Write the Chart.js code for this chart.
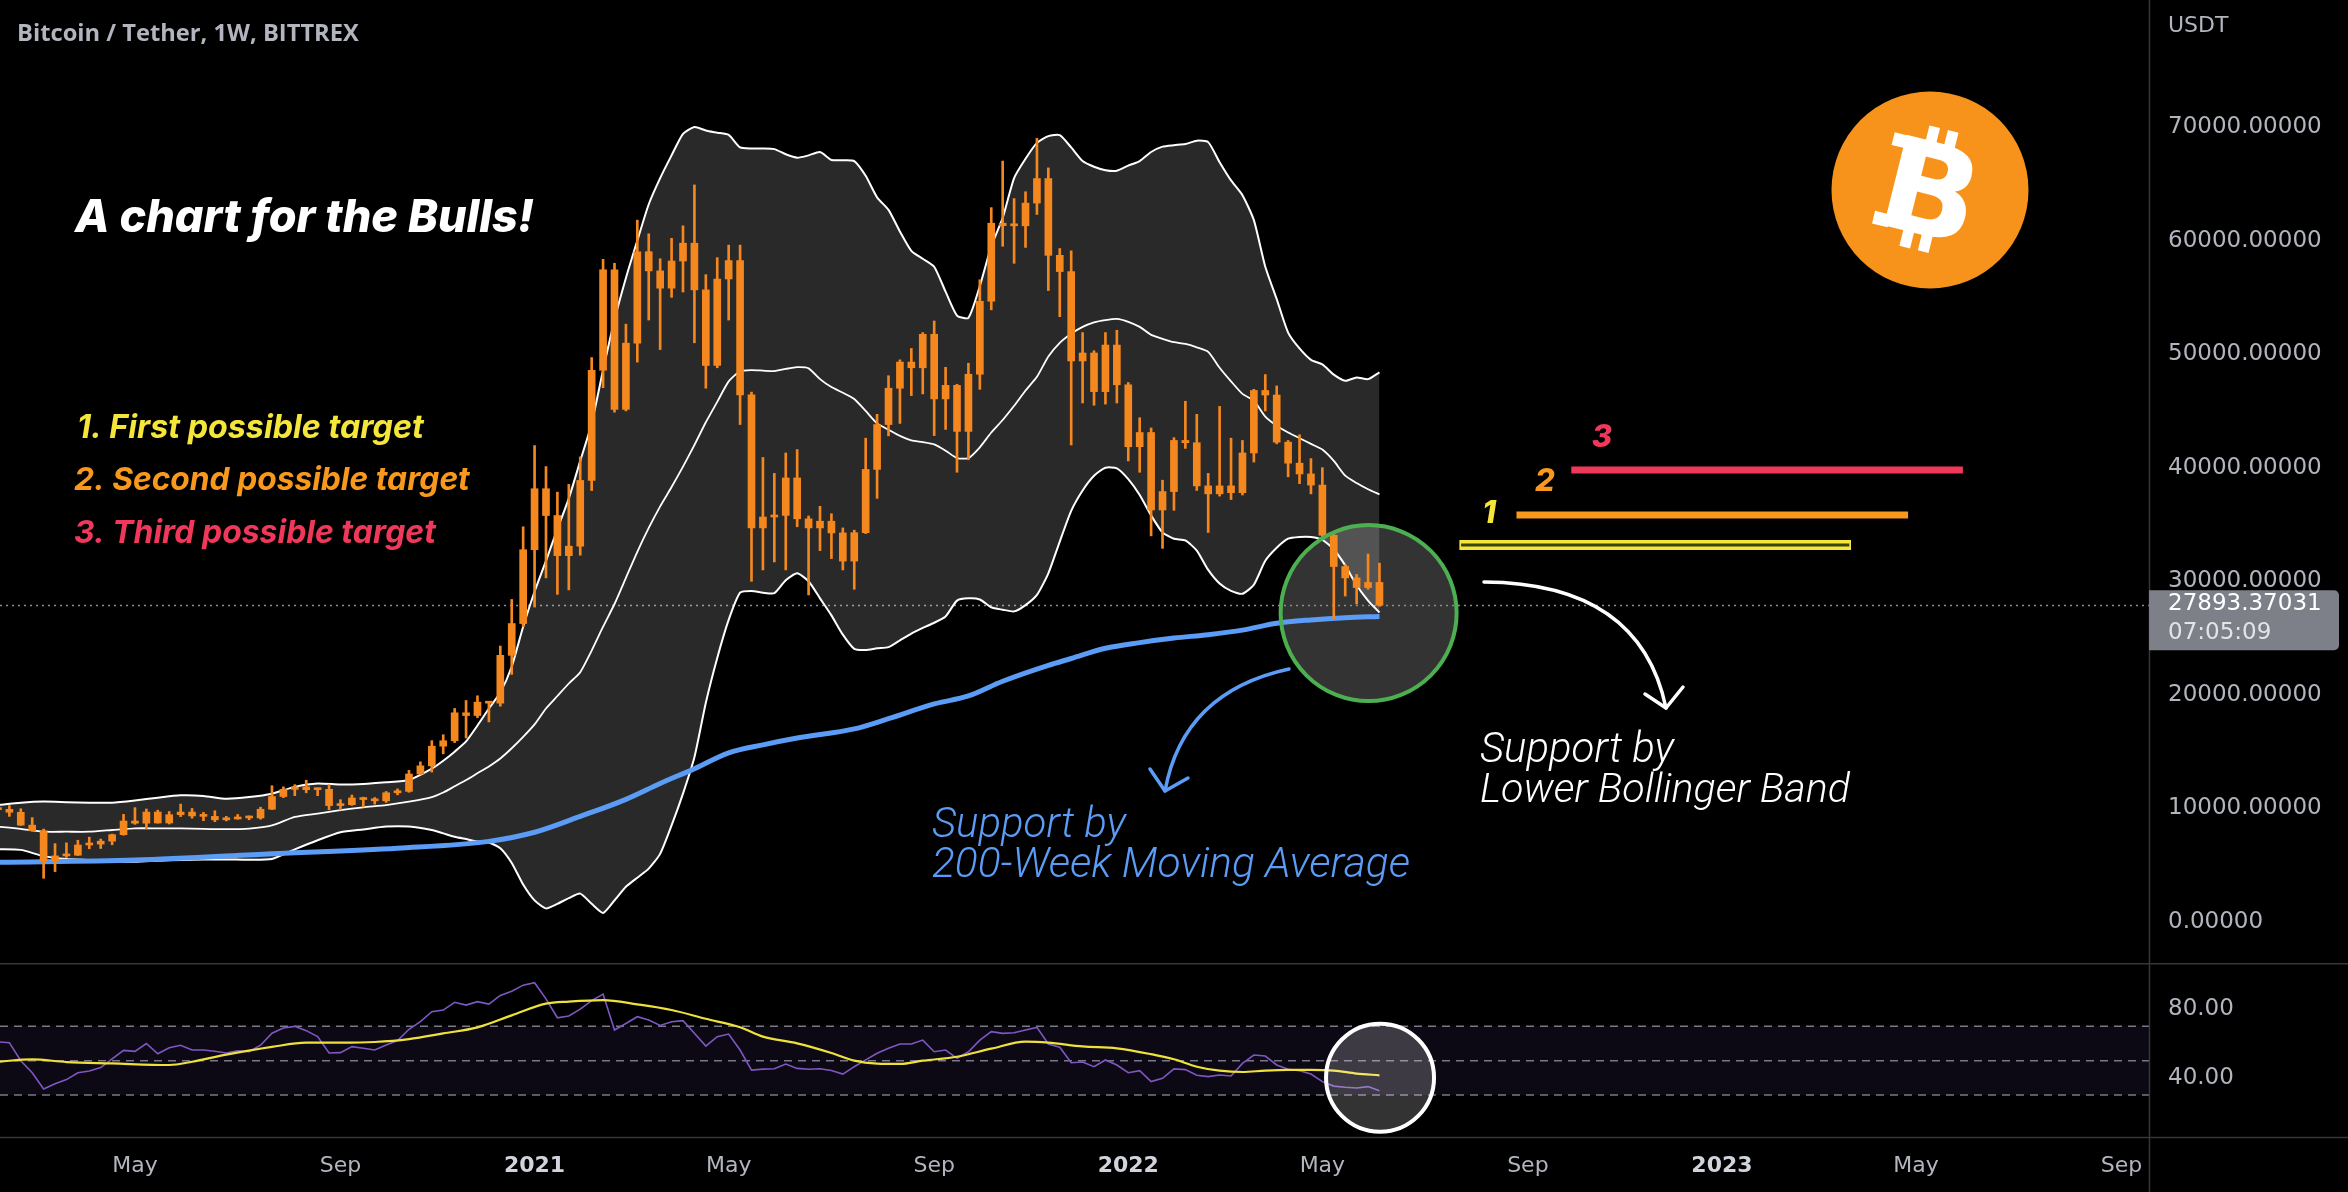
<!DOCTYPE html>
<html>
<head>
<meta charset="utf-8">
<title>Bitcoin / Tether, 1W, BITTREX</title>
<script src="https://cdn.jsdelivr.net/npm/chart.js@4.4.1/dist/chart.umd.min.js"></script>
<style>
html, body { margin: 0; padding: 0; background: #000; }
body { position: relative; width: 2348px; height: 1192px; overflow: hidden; }
canvas { position: absolute; left: 0; }
#priceChart { top: 0; }
#rsiChart { top: 963px; }
</style>
</head>
<body>
<canvas id="priceChart" width="2348" height="963"></canvas>
<canvas id="rsiChart" width="2348" height="229"></canvas>
<script>
// weekly candles; week numbers count from the week of 6 Jan 2020, first candle = week 5 (10 Feb 2020)
const firstWeek = 5;
const opens = [
  9900, 9920, 9660, 8530, 8030, 5360, 5820, 5880, 6780, 6860,
  7120, 7690, 8890, 8700, 9680, 8720, 9450, 9680, 9340, 9300,
  9000, 9070, 9230, 9160, 9930, 11050, 11680, 11900, 11650, 11680,
  10250, 10330, 10920, 10780, 10670, 11380, 11500, 13030, 13750, 15480,
  15960, 18420, 18180, 19360, 19270, 23480, 26280, 32780, 38150, 35790,
  32260, 33090, 38880, 48580, 57430, 45140, 50970, 59020, 57330, 55810,
  58200, 59770, 55660, 49000, 56620, 58240, 46420, 34700, 35660, 35800,
  39100, 35500, 34700, 35290, 34260, 31780, 34280, 39850, 43800, 47000,
  49300, 48800, 51750, 46060, 47250, 43200, 48230, 54660, 61530, 61310,
  61300, 63300, 65460, 58700, 57270, 49400, 50100, 46700, 50800, 47300,
  41850, 43100, 36280, 37900, 42400, 42200, 38400, 37700, 38400, 37800,
  41300, 46800, 46400, 42250, 40400, 39450, 38470, 34050, 31300, 30300,
  29450, 29900
];
const highs = [
  10500, 10250, 9970, 9190, 8180, 6900, 6970, 7200, 7470, 7300,
  7740, 9480, 10070, 9950, 9850, 9730, 10380, 10000, 9650, 9800,
  9300, 9470, 9340, 10110, 12000, 11900, 12090, 12480, 11800, 12090,
  10770, 11180, 10990, 10960, 11490, 11720, 13350, 14100, 15970, 16490,
  18800, 19500, 19920, 19400, 24300, 28400, 34800, 41950, 40100, 37850,
  38530, 40950, 49700, 58350, 58000, 52640, 61800, 60600, 58400, 60200,
  61300, 64900, 57000, 58500, 59600, 59600, 46660, 40900, 39500, 41300,
  41600, 35750, 36600, 35950, 34700, 34500, 42600, 44700, 48100, 49500,
  50500, 51900, 52920, 48840, 47350, 49200, 56550, 62900, 67000, 63700,
  64300, 69000, 66400, 59300, 59100, 51900, 50300, 51900, 52100, 47500,
  44400, 43500, 38900, 42650, 45850, 44700, 39500, 45400, 42600, 42400,
  46900, 48200, 47200, 42400, 42900, 40800, 40000, 34200, 31450, 30600,
  32400, 31600
];
const lows = [
  9700, 9300, 8500, 8000, 3850, 4440, 5690, 5860, 6450, 6470,
  6800, 7640, 8600, 8200, 8700, 8630, 9280, 9140, 8920, 8830,
  8900, 9050, 9000, 9050, 9900, 10950, 11120, 11380, 11120, 9880,
  9880, 10270, 10130, 10380, 10530, 11200, 11420, 12990, 13200, 14810,
  15800, 16200, 18000, 17620, 19000, 21800, 26000, 27730, 30300, 28850,
  29240, 32300, 37990, 47050, 44890, 45000, 49300, 53000, 50400, 55000,
  55470, 51000, 47000, 48800, 53000, 43800, 30000, 31000, 31700, 31000,
  34800, 28800, 32700, 32000, 31000, 29300, 34200, 37300, 42800, 43900,
  46350, 46500, 42830, 43370, 39600, 40700, 46900, 53900, 59500, 58000,
  59400, 62300, 55600, 53300, 42000, 45700, 45500, 45600, 45700, 40600,
  39600, 34000, 32900, 36250, 41700, 38000, 34300, 37500, 37200, 37600,
  40500, 45000, 42100, 39200, 38600, 37700, 33700, 26700, 28700, 28000,
  29300, 27800
];
const closes = [
  9920, 9660, 8530, 8030, 5360, 5820, 5880, 6780, 6860, 7120,
  7690, 8890, 8700, 9680, 8720, 9450, 9680, 9340, 9300, 9000,
  9070, 9230, 9160, 9930, 11050, 11680, 11900, 11650, 11680, 10250,
  10330, 10920, 10780, 10670, 11380, 11500, 13030, 13750, 15480, 15960,
  18420, 18180, 19360, 19270, 23480, 26280, 32780, 38150, 35790, 32260,
  33090, 38880, 48580, 57430, 45140, 50970, 59020, 57330, 55810, 58200,
  59770, 55660, 49000, 56620, 58240, 46420, 34700, 35660, 35800, 39100,
  35500, 34700, 35290, 34260, 31780, 34280, 39850, 43800, 47000, 49300,
  48800, 51750, 46060, 47250, 43200, 48230, 54660, 61530, 61310, 61300,
  63300, 65460, 58700, 57270, 49400, 50100, 46700, 50800, 47300, 41850,
  43100, 36280, 37900, 42400, 42200, 38400, 37700, 38400, 37800, 41300,
  46800, 46400, 42250, 40400, 39450, 38470, 34050, 31300, 30300, 29450,
  29900, 27893.37031
];

// Bollinger bands
const bbWeeks = [
  5, 7, 9, 11, 13, 15, 17, 19, 21, 23, 25, 27, 29, 31, 33, 35, 37, 39, 41, 43,
  44, 45, 46, 47, 48, 49, 50, 51, 52, 53, 54, 55, 56, 57, 58, 59, 60, 61, 62, 63,
  64, 65, 66, 67, 68, 69, 70, 71, 72, 73, 74, 75, 76, 77, 78, 79, 80, 81, 82, 83,
  84, 85, 86, 87, 88, 89, 90, 91, 92, 93, 94, 95, 96, 97, 98, 99, 100, 101, 102, 103,
  104, 105, 106, 107, 108, 109, 110, 111, 112, 113, 114, 115, 116, 117, 118, 119, 120, 121, 122, 123,
  124, 125, 126
];
const bbUpper = [
  10300, 10500, 10600, 10550, 10500, 10500, 10700, 10950, 11150, 11100, 10850, 11000, 11300, 11900, 12200, 12100, 12150, 12300, 12500, 13500,
  14200, 15000, 15900, 17300, 18800, 20200, 22500, 26000, 29100, 31800, 34600, 37300, 40600, 43900, 48600, 53000, 56700, 60000, 63200, 65500,
  67500, 69400, 70000, 69700, 69500, 69300, 68200, 68100, 68100, 68050, 67600, 67300, 67500, 67800, 67100, 67070, 67000, 65700, 63800, 62700,
  60800, 59100, 58400, 57700, 55500, 53400, 53200, 56000, 59500, 62000, 65500, 67200, 68600, 69200, 69280, 68200, 67000, 66500, 66200, 66150,
  66600, 67000, 67800, 68270, 68400, 68500, 68800, 68670, 66900, 65300, 64000, 61800, 57700, 54850, 51900, 50500, 49500, 49100, 48200, 47650,
  47950, 47800, 48400
];
const bbMiddle = [
  8400, 8200, 7950, 7950, 7950, 8100, 8250, 8250, 8250, 8200, 8170, 8220, 8500, 9250, 9550, 9850, 10100, 10300, 10600, 11000,
  11400, 11950, 12500, 13100, 13700, 14400, 15300, 16300, 17400, 18800, 19900, 21000, 22000, 23900, 26000, 28000, 30300, 32600, 34700, 36600,
  38300, 40100, 42000, 44000, 45800, 47600, 48500, 48600, 48550, 48500, 48700, 48850, 48750, 47800, 47100, 46600, 46050, 45000, 43900, 43350,
  42800, 42400, 42250, 42050, 41500, 40850, 40850, 41800, 43100, 44200, 45450, 46800, 48000, 49800, 51000, 51800, 52400, 52800, 53000, 53100,
  52850, 52400, 51700, 51350, 51050, 50900, 50600, 50200, 48800, 47600, 46500, 45900, 44500, 43700, 43100, 42600, 42100, 41600, 40600, 39300,
  38650, 38100, 37650
];
const bbLower = [
  6400, 6350, 5800, 5550, 5450, 5350, 5300, 5400, 5460, 5500, 5510, 5480, 5550, 6400, 7200, 7900, 8150, 8400, 8400, 8100,
  7800, 7500, 7300, 7100, 7000, 6500, 5200, 3300, 1900, 1200, 1600, 2100, 2500, 1600, 800, 1900, 3100, 3900, 4700, 6000,
  8500, 11300, 14500, 19300, 23250, 26600, 29000, 29150, 29000, 28950, 30100, 30700, 30000, 28500, 27000, 25300, 24050, 23950, 24100, 24200,
  24800, 25400, 25900, 26350, 26900, 28300, 28500, 28400, 27700, 27500, 27350, 27900, 28800, 30700, 33500, 36200, 38000, 39300, 40000, 39950,
  39000, 37600, 35800, 34300, 33750, 33600, 32700, 31000, 29800, 29150, 28900, 29700, 31800, 32950, 33750, 33900, 33900, 33650, 32800, 31400,
  29650, 28300, 27250
];

// 200-week moving average (blue)
const maWeeks = [5, 17, 29, 40, 48, 52, 56, 60, 63, 66, 69, 72, 75, 80, 83, 87, 90, 93, 97, 99, 102, 105, 108, 111, 114, 117, 120, 123, 126];
const maValues = [5250, 5450, 6000, 6500, 7100, 7900, 9300, 10800, 12200, 13500, 14900, 15600, 16200, 17000, 17900, 19200, 19900, 21200, 22600, 23200, 24100, 24600, 25000, 25300, 25700, 26300, 26600, 26800, 26900];

// RSI (one value per candle) and its moving average
const rsiValues = [
  61, 60.5, 50, 43, 33.5, 36.5, 39, 43, 44, 46,
  51, 56, 55.4, 60, 54, 57.5, 59, 56.2, 56.2, 55.5,
  54.5, 55.8, 55.2, 59, 66, 69, 70, 67.5, 64, 54.5,
  54.7, 58.2, 57.2, 56.2, 59.1, 61.7, 68.3, 72.7, 78.5, 79.5,
  84, 82.4, 84.4, 83, 88, 90.5, 94, 95.4, 86, 75,
  76, 80, 85, 88.8, 67.9, 71.7, 75.6, 73.7, 70.5, 72.7,
  73.3, 66, 58.5, 64, 65.5, 56.2, 44.5, 45.1, 45.3, 48,
  45.5, 45, 45.3, 44.3, 42.2, 46.5, 50.5, 54.3, 57.2, 59.7,
  59.7, 62, 55.2, 56.2, 51.4, 55.2, 62, 66.9, 65.9, 66.3,
  67.9, 69.4, 59.7, 57.8, 48.8, 49.2, 46.5, 50.4, 47.5, 43,
  44.2, 37.8, 39.7, 45.2, 44.8, 41.5, 40.7, 41.7, 41.1, 48.4,
  53.3, 52.7, 47.5, 45, 44.2, 42.2, 37.8, 35.2, 34.5, 34.1,
  34.9, 32.5
];
const rsiMaWeeks = [5, 8, 11, 15, 20, 22, 25, 29, 32, 35, 38, 41, 44, 47, 50, 53, 55, 58, 61, 64, 67, 70, 72, 75, 78, 80, 82, 84, 86, 89, 92, 95, 97, 100, 103, 106, 108, 110, 112, 114, 116, 118, 120, 122, 124, 126];
const rsiMaValues = [49.4, 50.8, 49.2, 48.4, 47.5, 49.4, 53.5, 58, 60.5, 60.5, 60.9, 62.6, 65.9, 69.4, 76.4, 83.2, 84.4, 85.3, 82.8, 79.5, 74.4, 69.5, 64, 60.1, 54.5, 50, 48.3, 48.1, 50, 52.3, 57, 61.1, 60.5, 58.3, 57.2, 53.8, 50.8, 46.5, 44.2, 43.4, 44.2, 44.6, 44.6, 44.2, 42.5, 41.5];
const rsiLevels = [70, 50, 30];

// axes
const priceTicks = [0, 10000, 20000, 30000, 40000, 50000, 60000, 70000];
const rsiTicks = [40, 80];
const timeTickWeeks = [17, 35, 52, 69, 87, 104, 121, 139, 156, 173, 191];
const timeTickLabels = ['May', 'Sep', '2021', 'May', 'Sep', '2022', 'May', 'Sep', '2023', 'May', 'Sep'];

// the three target levels drawn to the right
const targetNames = ['1', '2', '3'];
const targetValues = [33200, 35840, 39800];
const targetFrom = [133.0, 138.0, 142.8];
const targetTo = [167.3, 172.3, 177.1];

const lastPrice = 27893.37031;
const countdown = '07:05:09';

// visible window
const xMin = 5.18, xMax = 193.4;
const yMin = -3610, yMax = 81183;
const rsiMin = 5.55, rsiMax = 106.9;

const orange = '#f5871f';
const targetColors = ['#f5e63a', '#f8981d', '#f0385a'];
const axisText = '#b2b5be';
const lineGrey = '#363636';

const pts = (xs, ys) => xs.map((x, i) => ({ x: x, y: ys[i] }));
const candleWeek = i => firstWeek + i;

function fitFont(ctx, text, style, weight, family, width) {
  ctx.font = style + ' ' + weight + ' 100px ' + family;
  const size = 100 * width / ctx.measureText(text).width;
  ctx.font = style + ' ' + weight + ' ' + size.toFixed(2) + 'px ' + family;
}

function curvedArrow(ctx, from, ctrl, to, wingA, wingB, color) {
  ctx.save();
  ctx.strokeStyle = color;
  ctx.lineWidth = 3.5;
  ctx.lineCap = 'round';
  ctx.lineJoin = 'round';
  ctx.beginPath();
  ctx.moveTo(from[0], from[1]);
  ctx.quadraticCurveTo(ctrl[0], ctrl[1], to[0], to[1]);
  ctx.stroke();
  ctx.beginPath();
  ctx.moveTo(wingA[0], wingA[1]);
  ctx.lineTo(to[0], to[1]);
  ctx.lineTo(wingB[0], wingB[1]);
  ctx.stroke();
  ctx.restore();
}

function bitcoinLogo(ctx, cx, cy, r) {
  ctx.save();
  ctx.fillStyle = '#f7931a';
  ctx.beginPath();
  ctx.arc(cx, cy, r, 0, Math.PI * 2);
  ctx.fill();
  ctx.translate(cx - 2, cy - 1);
  ctx.rotate(14 * Math.PI / 180);
  ctx.fillStyle = '#ffffff';
  ctx.font = 'bold 128px "DejaVu Sans"';
  ctx.textAlign = 'center';
  ctx.textBaseline = 'alphabetic';
  ctx.fillText('B', 3, 46);
  ctx.fillRect(-46, -47, 16, 13);
  ctx.fillRect(-46, 34, 16, 13);
  ctx.fillRect(-14, -62, 11, 17);
  ctx.fillRect(5, -62, 11, 17);
  ctx.fillRect(-14, 45, 11, 17);
  ctx.fillRect(5, 45, 11, 17);
  ctx.restore();
}

// drawings on the price pane
const priceDrawings = {
  id: 'priceDrawings',
  beforeDatasetsDraw(chart) {
    const { ctx, chartArea, scales: { x, y } } = chart;
    ctx.save();
    // circle fill behind the candles
    ctx.fillStyle = 'rgba(255,255,255,0.2)';
    ctx.beginPath();
    ctx.arc(x.getPixelForValue(125.05), y.getPixelForValue(27200), 88, 0, Math.PI * 2);
    ctx.fill();
    // last price line
    const py = Math.round(y.getPixelForValue(lastPrice)) + 0.5;
    ctx.strokeStyle = '#8a8d96';
    ctx.lineWidth = 1.5;
    ctx.setLineDash([2, 4]);
    ctx.beginPath();
    ctx.moveTo(chartArea.left, py);
    ctx.lineTo(chartArea.right, py);
    ctx.stroke();
    ctx.restore();
  },
  afterDatasetsDraw(chart) {
    const { ctx, scales: { x, y } } = chart;
    ctx.save();
    ctx.strokeStyle = '#4caf50';
    ctx.lineWidth = 4;
    ctx.beginPath();
    ctx.arc(x.getPixelForValue(125.05), y.getPixelForValue(27200), 88, 0, Math.PI * 2);
    ctx.stroke();

    curvedArrow(ctx, [1289, 669], [1183, 692], [1165, 791], [1150, 769], [1188, 778], '#5b9cf6');
    curvedArrow(ctx, [1484, 582], [1640, 583], [1666, 708], [1645, 694], [1683, 687], '#ffffff');

    // numbers next to the target lines
    ctx.textAlign = 'center';
    ctx.textBaseline = 'middle';
    ctx.font = 'italic 800 31px Inter';
    const numPos = [[1489, 514], [1545, 482], [1602, 438]];
    targetNames.forEach((t, k) => {
      ctx.fillStyle = targetColors[k];
      ctx.fillText(t, numPos[k][0], numPos[k][1]);
    });

    ctx.textAlign = 'left';
    ctx.textBaseline = 'alphabetic';
    ctx.fillStyle = '#b2b5be';
    fitFont(ctx, 'Bitcoin / Tether, 1W, BITTREX', 'normal', 700, '"Open Sans"', 342);
    ctx.fillText('Bitcoin / Tether, 1W, BITTREX', 17, 41);

    ctx.fillStyle = '#ffffff';
    fitFont(ctx, 'A chart for the Bulls!', 'italic', 800, 'Inter', 459);
    ctx.fillText('A chart for the Bulls!', 75, 232);

    const listText = ['1. First possible target', '2. Second possible target', '3. Third possible target'];
    const listWidth = [347, 396, 362];
    const listBase = [438, 490, 543];
    listText.forEach((t, k) => {
      ctx.fillStyle = targetColors[k];
      fitFont(ctx, t, 'italic', 700, 'Inter', listWidth[k]);
      ctx.fillText(t, k === 0 ? 77 : 74, listBase[k]);
    });

    ctx.fillStyle = '#ffffff';
    fitFont(ctx, 'Support by', 'italic', 300, 'Roboto', 194);
    ctx.fillText('Support by', 1480, 762);
    fitFont(ctx, 'Lower Bollinger Band', 'italic', 300, 'Roboto', 370);
    ctx.fillText('Lower Bollinger Band', 1480, 802);

    ctx.fillStyle = '#5b9cf6';
    fitFont(ctx, 'Support by', 'italic', 300, 'Roboto', 194);
    ctx.fillText('Support by', 932, 837);
    fitFont(ctx, '200-Week Moving Average', 'italic', 300, 'Roboto', 478);
    ctx.fillText('200-Week Moving Average', 932, 877);

    bitcoinLogo(ctx, 1930, 190, 98.5);
    ctx.restore();
  },
  afterDraw(chart) {
    const { ctx, chartArea, scales: { y } } = chart;
    ctx.save();
    ctx.strokeStyle = lineGrey;
    ctx.lineWidth = 1.5;
    ctx.beginPath();
    ctx.moveTo(chartArea.right + 0.5, 0);
    ctx.lineTo(chartArea.right + 0.5, chart.height);
    ctx.stroke();

    ctx.fillStyle = axisText;
    ctx.font = '22px "DejaVu Sans"';
    ctx.textBaseline = 'middle';
    ctx.fillText('USDT', chartArea.right + 19, 26);

    // current price tag
    const py = y.getPixelForValue(lastPrice);
    ctx.fillStyle = '#7d8089';
    ctx.beginPath();
    ctx.roundRect(chartArea.right, py - 15, 190, 60, [0, 5, 5, 0]);
    ctx.fill();
    ctx.fillStyle = '#ffffff';
    ctx.font = '23px "DejaVu Sans"';
    ctx.fillText(lastPrice.toFixed(5), chartArea.right + 19, py - 1);
    ctx.fillStyle = '#e3e4e8';
    ctx.fillText(countdown, chartArea.right + 19, py + 28);
    ctx.restore();
  }
};

const rsiDrawings = {
  id: 'rsiDrawings',
  afterDatasetsDraw(chart) {
    const { ctx, scales: { x, y } } = chart;
    ctx.save();
    const cx = x.getPixelForValue(126.05), cy = y.getPixelForValue(40.1);
    ctx.fillStyle = 'rgba(255,255,255,0.2)';
    ctx.beginPath();
    ctx.arc(cx, cy, 54, 0, Math.PI * 2);
    ctx.fill();
    ctx.strokeStyle = '#ffffff';
    ctx.lineWidth = 4;
    ctx.stroke();
    ctx.restore();
  },
  afterDraw(chart) {
    const { ctx, chartArea } = chart;
    ctx.save();
    ctx.strokeStyle = lineGrey;
    ctx.lineWidth = 1.5;
    ctx.beginPath();
    ctx.moveTo(0, 0.75);
    ctx.lineTo(chart.width, 0.75);
    ctx.moveTo(0, chartArea.bottom + 0.5);
    ctx.lineTo(chart.width, chartArea.bottom + 0.5);
    ctx.moveTo(chartArea.right + 0.5, 0);
    ctx.lineTo(chartArea.right + 0.5, chart.height);
    ctx.stroke();
    ctx.restore();
  }
};

const rightAxis = (min, max, ticks, digits) => ({
  type: 'linear',
  position: 'right',
  min: min,
  max: max,
  grid: { display: false, drawTicks: false },
  border: { display: false },
  ticks: {
    color: axisText,
    font: { family: 'DejaVu Sans', size: 23 },
    padding: 19,
    autoSkip: false,
    callback: v => Number(v).toFixed(digits)
  },
  afterBuildTicks: s => { s.ticks = ticks.map(v => ({ value: v })); },
  afterFit: s => { s.width = 199; s.paddingTop = 0; s.paddingBottom = 0; }
});

const candleWicks = highs.map((h, i) => ({ x: candleWeek(i), y: [lows[i], h] }));
const candleBodies = opens.map((o, i) => ({ x: candleWeek(i), y: [o, closes[i]] }));

const targetSets = targetValues.map((v, k) => ({
  type: 'line',
  data: pts([targetFrom[k], targetTo[k]], [v, v]),
  borderColor: targetColors[k],
  borderWidth: k === 0 ? 10 : 7,
  borderCapStyle: 'butt',
  pointRadius: 0,
  fill: false,
  order: 0
}));
// the first target is a thin dark line inside a yellow frame
targetSets.push({
  type: 'line',
  data: pts([targetFrom[0] + 0.15, targetTo[0] - 0.15], [targetValues[0], targetValues[0]]),
  borderColor: '#3a4712',
  borderWidth: 3,
  borderCapStyle: 'butt',
  pointRadius: 0,
  fill: false,
  order: -1
});

new Chart(document.getElementById('priceChart'), {
  type: 'bar',
  data: {
    datasets: [
      { type: 'line', label: 'Upper', data: pts(bbWeeks, bbUpper), borderColor: '#ffffff', borderWidth: 2, pointRadius: 0, tension: 0.2, fill: '+2', backgroundColor: 'rgba(255,255,255,0.16)', order: 10 },
      { type: 'line', label: 'Basis', data: pts(bbWeeks, bbMiddle), borderColor: '#ffffff', borderWidth: 1.8, pointRadius: 0, tension: 0.2, fill: false, order: 9 },
      { type: 'line', label: 'Lower', data: pts(bbWeeks, bbLower), borderColor: '#ffffff', borderWidth: 2, pointRadius: 0, tension: 0.2, fill: false, order: 9 },
      { type: 'line', label: 'MA 200', data: pts(maWeeks, maValues), borderColor: '#5b9cf6', borderWidth: 5, pointRadius: 0, cubicInterpolationMode: 'monotone', fill: false, order: 5 },
      { type: 'bar', label: 'wicks', data: candleWicks, backgroundColor: orange, barThickness: 2, grouped: false, order: 2 },
      { type: 'bar', label: 'bodies', data: candleBodies, backgroundColor: orange, barThickness: 7, minBarLength: 2, grouped: false, order: 1 },
      ...targetSets
    ]
  },
  options: {
    responsive: false,
    animation: false,
    devicePixelRatio: 1,
    layout: { padding: 0 },
    plugins: { legend: { display: false }, tooltip: { enabled: false } },
    scales: {
      x: { type: 'linear', min: xMin, max: xMax, offset: false, display: false },
      y: rightAxis(yMin, yMax, priceTicks, 5)
    }
  },
  plugins: [priceDrawings]
});

const levelStyle = { borderColor: '#787b86', borderWidth: 1.5, borderDash: [8, 6], pointRadius: 0, order: 5 };

new Chart(document.getElementById('rsiChart'), {
  type: 'line',
  data: {
    datasets: [
      Object.assign({ label: 'Upper band', data: pts([xMin, xMax], [rsiLevels[0], rsiLevels[0]]), fill: '+2', backgroundColor: 'rgba(126,87,194,0.1)' }, levelStyle),
      Object.assign({ label: 'Middle band', data: pts([xMin, xMax], [rsiLevels[1], rsiLevels[1]]), fill: false }, levelStyle),
      Object.assign({ label: 'Lower band', data: pts([xMin, xMax], [rsiLevels[2], rsiLevels[2]]), fill: false }, levelStyle),
      { label: 'RSI', data: rsiValues.map((v, i) => ({ x: candleWeek(i), y: v })), borderColor: '#7e57c2', borderWidth: 1.6, pointRadius: 0, fill: false, order: 2 },
      { label: 'RSI-based MA', data: pts(rsiMaWeeks, rsiMaValues), borderColor: '#efe13c', borderWidth: 2.2, pointRadius: 0, cubicInterpolationMode: 'monotone', fill: false, order: 1 }
    ]
  },
  options: {
    responsive: false,
    animation: false,
    devicePixelRatio: 1,
    layout: { padding: 0 },
    plugins: { legend: { display: false }, tooltip: { enabled: false } },
    scales: {
      x: {
        type: 'linear',
        min: xMin,
        max: xMax,
        offset: false,
        grid: { display: false, drawTicks: false },
        border: { display: false },
        ticks: {
          autoSkip: false,
          maxRotation: 0,
          padding: 16,
          color: c => (c.tick && /^\d{4}$/.test(timeTickLabels[timeTickWeeks.indexOf(c.tick.value)])) ? '#d1d4dc' : axisText,
          font: c => ({ family: 'DejaVu Sans', size: 22, weight: (c.tick && /^\d{4}$/.test(timeTickLabels[timeTickWeeks.indexOf(c.tick.value)])) ? 'bold' : 'normal' }),
          callback: v => timeTickLabels[timeTickWeeks.indexOf(v)]
        },
        afterBuildTicks: s => { s.ticks = timeTickWeeks.map(v => ({ value: v })); },
        afterFit: s => { s.height = 55; s.paddingLeft = 0; s.paddingRight = 0; }
      },
      y: rightAxis(rsiMin, rsiMax, rsiTicks, 2)
    }
  },
  plugins: [rsiDrawings]
});
</script>
</body>
</html>
